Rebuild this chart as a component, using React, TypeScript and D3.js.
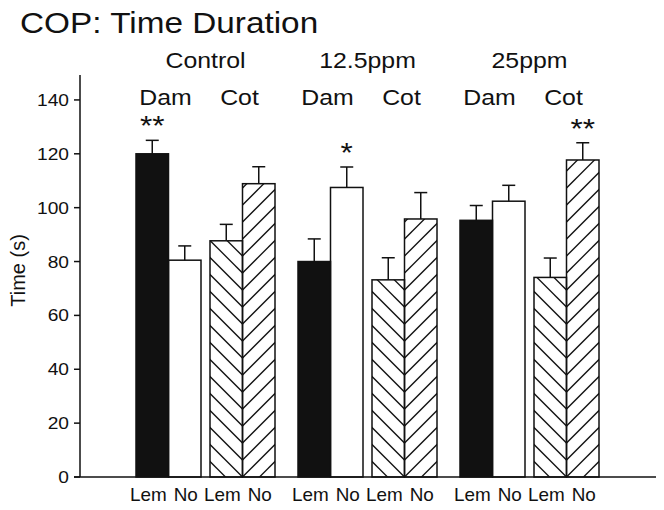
import React from "react";
import * as d3 from "d3";

// ---- data ----
const groups = ["Control", "12.5ppm", "25ppm"];
const pairs = ["Dam", "Cot"];
const bars = ["Lem", "No"];
// means (s)
const damLem = [120, 80, 95.3];
const damNo = [80.5, 107.5, 102.4];
const cotLem = [87.7, 73.2, 74.1];
const cotNo = [108.9, 95.8, 117.7];
// upper error (SE)
const damLemErr = [5, 8.4, 5.5];
const damNoErr = [5.3, 7.6, 5.9];
const cotLemErr = [6.1, 8.2, 7.2];
const cotNoErr = [6.3, 9.8, 6.4];
// significance marks: [group, pair, bar, label]
const marks: [string, string, string, string][] = [
  ["Control", "Dam", "Lem", "**"],
  ["12.5ppm", "Dam", "No", "*"],
  ["25ppm", "Cot", "No", "**"],
];
const yTicks = [0, 20, 40, 60, 80, 100, 120, 140];
const title = "COP: Time Duration";
const yLabel = "Time (s)";

const FONT = "'Liberation Sans', Arial, Helvetica, sans-serif";

type Bar = { group: string; pair: string; bar: string; value: number; err: number };

const data: Bar[] = [];
groups.forEach((g, i) => {
  data.push({ group: g, pair: "Dam", bar: "Lem", value: damLem[i], err: damLemErr[i] });
  data.push({ group: g, pair: "Dam", bar: "No", value: damNo[i], err: damNoErr[i] });
  data.push({ group: g, pair: "Cot", bar: "Lem", value: cotLem[i], err: cotLemErr[i] });
  data.push({ group: g, pair: "Cot", bar: "No", value: cotNo[i], err: cotNoErr[i] });
});

const W = 664;
const H = 510;

const y = d3.scaleLinear().domain([0, 150]).range([477, 73]);
const gx = d3
  .scaleBand<string>()
  .domain(groups)
  .range([124.5, 610.5])
  .paddingInner(23 / 162)
  .paddingOuter(23 / 324);
const px = d3.scaleBand<string>().domain(pairs).range([0, gx.bandwidth()]).paddingInner(9 / 74);
const bx = d3.scaleBand<string>().domain(bars).range([0, px.bandwidth()]);

const barX = (d: { group: string; pair: string; bar: string }) =>
  (gx(d.group) as number) + (px(d.pair) as number) + (bx(d.bar) as number);

function T(props: {
  x: number;
  y: number;
  size: number;
  anchor?: string;
  sx?: number;
  children: React.ReactNode;
}) {
  const { x, y: yy, size, anchor = "middle", sx = 1.13, children } = props;
  return (
    <text
      transform={`translate(${x},${yy}) scale(${sx},1)`}
      textAnchor={anchor}
      fontSize={size}
      fontFamily={FONT}
      fill="#111"
    >
      {children}
    </text>
  );
}

export default function App() {
  const y0 = y(0);
  const spacing = 17;
  const bw = bx.bandwidth();

  const hatch = (d: Bar, idx: number) => {
    const x0 = barX(d);
    const top = y(d.value);
    const h = y0 - top;
    const n = Math.ceil(h / spacing) + 2;
    const ks = d3.range(-3, n + 1);
    const L = bw + 40;
    let lines;
    if (d.bar === "Lem") {
      const xb = x0 + bw;
      lines = ks.map((k) => {
        const yb = y0 - k * spacing;
        return <line key={k} x1={xb + 20} y1={yb + 20} x2={xb - L} y2={yb - L} />;
      });
    } else {
      const xb = x0;
      lines = ks.map((k) => {
        const yb = y0 - k * spacing;
        return <line key={k} x1={xb - 20} y1={yb + 20} x2={xb + L} y2={yb - L} />;
      });
    }
    return (
      <g key={"h" + idx} clipPath={`url(#clip${idx})`} stroke="#111" strokeWidth={1.3}>
        {lines}
      </g>
    );
  };

  return (
    <svg
      width={W}
      height={H}
      style={{ position: "absolute", left: 0, top: 0, background: "#fff" }}
    >
      <defs>
        {data.map((d, i) => (
          <clipPath id={`clip${i}`} key={i}>
            <rect x={barX(d)} y={y(d.value)} width={bw} height={y0 - y(d.value)} />
          </clipPath>
        ))}
      </defs>

      <T x={20} y={33} size={29.5} anchor="start">
        {title}
      </T>

      {groups.map((g) => (
        <T key={g} x={(gx(g) as number) + gx.bandwidth() / 2} y={68} size={22}>
          {g}
        </T>
      ))}
      {groups.map((g) =>
        pairs.map((p) => (
          <T
            key={g + p}
            x={(gx(g) as number) + (px(p) as number) + px.bandwidth() / 2 - 3}
            y={105}
            size={22}
          >
            {p}
          </T>
        ))
      )}

      {data.map((d, i) => {
        const fill = d.pair === "Dam" && d.bar === "Lem" ? "#111" : "#fff";
        return (
          <rect
            key={"b" + i}
            x={barX(d)}
            y={y(d.value)}
            width={bw}
            height={y0 - y(d.value)}
            fill={fill}
          />
        );
      })}
      {data.map((d, i) => (d.pair === "Cot" ? hatch(d, i) : null))}
      {data.map((d, i) => (
        <rect
          key={"o" + i}
          x={barX(d)}
          y={y(d.value)}
          width={bw}
          height={y0 - y(d.value)}
          fill="none"
          stroke="#111"
          strokeWidth={1.5}
        />
      ))}

      {data.map((d, i) => {
        const cx = barX(d) + bw / 2;
        return (
          <g key={"e" + i} stroke="#111" strokeWidth={1.5}>
            <line x1={cx} x2={cx} y1={y(d.value)} y2={y(d.value + d.err)} />
            <line x1={cx - 6.5} x2={cx + 6.5} y1={y(d.value + d.err)} y2={y(d.value + d.err)} />
          </g>
        );
      })}

      {marks.map(([g, p, b, lab]) => {
        const d = data.find((e) => e.group === g && e.pair === p && e.bar === b) as Bar;
        return (
          <T key={g + p + b} x={barX(d) + bw / 2} y={y(d.value + d.err) - 5} size={28}>
            {lab}
          </T>
        );
      })}

      <g stroke="#111" strokeWidth={1.5}>
        <line x1={80} x2={80} y1={y0} y2={75} />
        <line x1={74} x2={656} y1={y0} y2={y0} />
        {yTicks.map((t) => (
          <line key={t} x1={74} x2={80} y1={y(t)} y2={y(t)} />
        ))}
      </g>
      {yTicks.map((t) => (
        <T key={"t" + t} x={69} y={y(t) + 6} size={17} anchor="end">
          {t}
        </T>
      ))}
      <g transform="translate(25,270.5) rotate(-90)">
        <text textAnchor="middle" fontSize={20} fontFamily={FONT} fill="#111">
          {yLabel}
        </text>
      </g>

      {data.map((d, i) => (
        <T
          key={"l" + i}
          x={barX(d) + bw / 2 + (d.bar === "Lem" ? -4 : 1)}
          y={501}
          size={18}
          sx={1.05}
        >
          {d.bar}
        </T>
      ))}
    </svg>
  );
}
